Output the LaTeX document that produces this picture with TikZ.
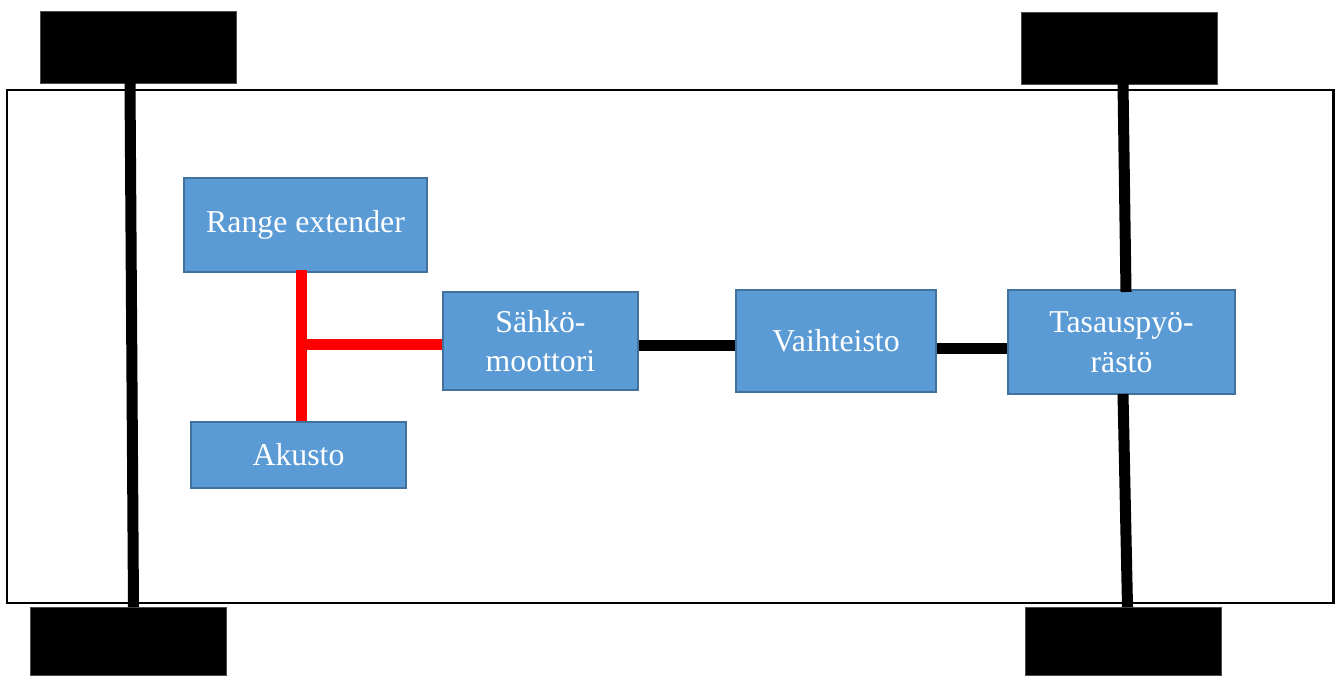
\documentclass[tikz,border=0pt]{standalone}
\usepackage{fontspec}
\setmainfont{Liberation Serif}
\definecolor{boxfill}{RGB}{91,155,213}
\definecolor{boxedge}{RGB}{65,113,156}
\begin{document}
\begin{tikzpicture}[x=1pt,y=-1pt,
  unit/.style={rectangle, draw=boxedge, line width=2pt, fill=boxfill,
    text=white, inner sep=0pt, align=center,
    font=\fontsize{31.8}{39.5}\selectfont},
  wheel/.style={rectangle, fill=black, draw=black!70, line width=0.8pt,
    minimum width=196pt, inner sep=0pt},
  axle/.style={line width=11pt, black},
  shaft/.style={line width=11pt, black},
  power/.style={line width=11pt, red}]
\useasboundingbox (0,0) rectangle (1335,675);

% body of the vehicle
\draw[line width=2.5pt] (7,90) rectangle (1333.5,603);

% wheels
\node[wheel, minimum height=72pt] (wfl) at (138,47) {};
\node[wheel, minimum height=72pt] (wfr) at (1119,48) {};
\node[wheel, minimum height=68pt] (wrl) at (128,641) {};
\node[wheel, minimum height=68pt] (wrr) at (1123,641) {};

% drivetrain units
\node[unit, minimum width=243pt, minimum height=94pt] (re) at (305.5,225) {Range extender};
\node[unit, minimum width=215pt, minimum height=66pt] (ak) at (298.5,455) {Akusto};
\node[unit, minimum width=195pt, minimum height=98pt] (sm) at (540.5,341) {Sähkö-\\moottori};
\node[unit, minimum width=200pt, minimum height=102pt] (vt) at (836,341) {Vaihteisto};
\node[unit, minimum width=227pt, minimum height=104pt] (ta) at (1121.5,342) {Tasauspyö-\\rästö};

% axle end points
\coordinate (la1) at (130,83);
\coordinate (la2) at (133.5,607);
\coordinate (ra1) at (1123,84);
\coordinate (ra2) at (1126,292);
\coordinate (ra3) at (1123,394);
\coordinate (ra4) at (1127.5,607);

% axles
\draw[axle] (la1) -- (la2);
\draw[axle] (ra1) -- (ra2);
\draw[axle] (ra3) -- (ra4);

% electric connections
\coordinate (rj) at (301.5,344.5);
\draw[power] ([yshift=3pt]re.south -| rj) -- (ak.north -| rj);
\draw[power] ([xshift=-5.5pt]rj) -- (sm.west |- rj);

% mechanical shafts
\coordinate (s1) at (0,345);
\coordinate (s2) at (0,348);
\draw[shaft] (sm.east |- s1) -- (vt.west |- s1);
\draw[shaft] (vt.east |- s2) -- (ta.west |- s2);
\end{tikzpicture}
\end{document}
